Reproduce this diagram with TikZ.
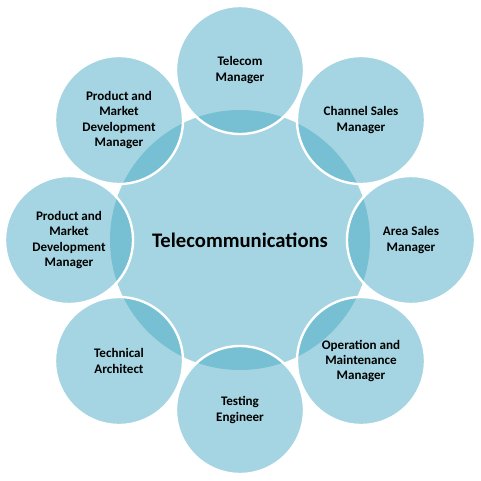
\documentclass[tikz,border=0pt]{standalone}
\usepackage{fontspec}
\setmainfont{Carlito}
\definecolor{teleblue}{HTML}{4BABC5}

\begin{document}
\begin{tikzpicture}[x=0.25mm, y=-0.25mm,
		core/.style={circle, fill=teleblue, fill opacity=0.5, text opacity=1, minimum size=65mm, inner sep=0pt, font=\fontsize{14.7}{16}\selectfont\bfseries},
		role/.style={circle, fill=teleblue, fill opacity=0.5, text opacity=1, draw=white, line width=0.6mm, minimum size=32mm, inner sep=0pt, align=center, font=\fontsize{9.3}{10.9}\selectfont\bfseries}]
	% Khung hình vuông của cả bức tranh
	\useasboundingbox (0,0) rectangle (481,481);
	
	% Vòng tròn lớn ở giữa
	\node[core] (tele) at (240,240) {Telecommunications};
	
	% Tám vòng tròn nhỏ xung quanh
	\node[role] (telmgr) at (240,70) {Telecom\\Manager};
	\node[role] (chsales) at (361,120) {Channel Sales\\Manager};
	\node[role] (arsales) at (411,240) {Area Sales\\Manager};
	\node[role] (opmgr) at (361,361) {Operation and\\Maintenance\\Manager};
	\node[role] (testeng) at (240,410) {Testing\\Engineer};
	\node[role] (techarch) at (119,361) {Technical\\Architect};
	\node[role] (pmdleft) at (69,240) {Product and\\Market\\Development\\Manager};
	\node[role] (pmdtop) at (119,120) {Product and\\Market\\Development\\Manager};
	
\end{tikzpicture}
\end{document}
